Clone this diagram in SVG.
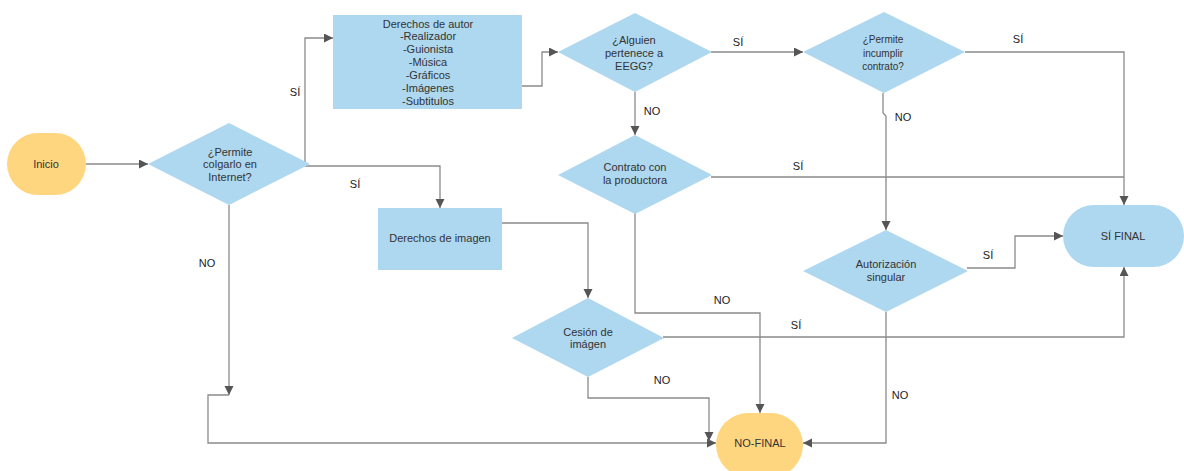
<svg xmlns="http://www.w3.org/2000/svg" width="1184" height="471" viewBox="0 0 1184 471">
<defs>
<style>
.blue{fill:#AED7F0;}
.yellow{fill:#FFD680;}
.t{font-family:"Liberation Sans",Arial,sans-serif;font-size:11px;fill:#333;text-anchor:middle;}
.s{font-size:10px;}
.lbl{font-family:"Liberation Sans",Arial,sans-serif;font-size:11px;fill:#222;text-anchor:middle;}
.c{fill:none;stroke:#8a8a8a;stroke-width:1.3;}
.a{marker-end:url(#arr);}
</style>
<marker id="arr" markerUnits="userSpaceOnUse" markerWidth="10" markerHeight="10" refX="9" refY="4.5" orient="auto">
<path d="M0,0 L9,4.5 L0,9 Z" fill="#555"/>
</marker>
</defs>
<rect width="1184" height="471" fill="#fff"/>

<g id="connectors">
<path class="c a" d="M86,164 H148"/>
<path class="c a" d="M305,166 V38 H333"/>
<path class="c a" d="M305,166 H440 V208"/>
<path class="c a" d="M229,205 V395"/>
<path class="c a" d="M229,395 H208 V443 H716"/>
<path class="c a" d="M522,86 H542 V52 H558"/>
<path class="c a" d="M711,52 H803"/>
<path class="c a" d="M965,52 H1124 V205"/>
<path class="c a" d="M883,93 V113 L886,116 V230"/>
<path class="c a" d="M635,92 V135"/>
<path class="c" d="M711,177 H1124"/>
<path class="c a" d="M635,213 V313 H760 V413"/>
<path class="c a" d="M502,223 H588 V298"/>
<path class="c a" d="M663,337 H1124 V267"/>
<path class="c a" d="M588,377 V398 H709 V441"/>
<path class="c a" d="M967,268 H1015 V236 H1063"/>
<path class="c a" d="M886,312 V443 H803"/>
<text class="lbl" x="295" y="96">SÍ</text>
<text class="lbl" x="355" y="188">SÍ</text>
<text class="lbl" x="207" y="267">NO</text>
<text class="lbl" x="652" y="115">NO</text>
<text class="lbl" x="738" y="46">SÍ</text>
<text class="lbl" x="1018" y="43">SÍ</text>
<text class="lbl" x="903" y="121">NO</text>
<text class="lbl" x="798" y="170">SÍ</text>
<text class="lbl" x="722" y="304">NO</text>
<text class="lbl" x="796" y="329">SÍ</text>
<text class="lbl" x="662" y="384">NO</text>
<text class="lbl" x="988" y="259">SÍ</text>
<text class="lbl" x="900" y="399">NO</text>
</g>

<g id="inicio">
<rect class="yellow" x="7" y="133" width="79" height="62" rx="31" ry="31"/>
<text class="t" x="46" y="168">Inicio</text>
</g>

<g id="permite-colgarlo">
<polygon class="blue" points="148,164 229,123 310,164 229,205"/>
<text class="t" x="230" y="156">¿Permite</text>
<text class="t" x="230" y="168">colgarlo en</text>
<text class="t" x="230" y="181">Internet?</text>
</g>

<g id="derechos-autor">
<rect class="blue" x="333" y="15" width="189" height="94"/>
<text class="t" x="428" y="28">Derechos de autor</text>
<text class="t" x="428" y="40">-Realizador</text>
<text class="t" x="428" y="53">-Guionista</text>
<text class="t" x="428" y="66">-Música</text>
<text class="t" x="428" y="79">-Gráficos</text>
<text class="t" x="428" y="92">-Imágenes</text>
<text class="t" x="428" y="105">-Subtitulos</text>
</g>

<g id="derechos-imagen">
<rect class="blue" x="378" y="208" width="124" height="62"/>
<text class="t" x="440" y="242">Derechos de imagen</text>
</g>

<g id="alguien-eegg">
<polygon class="blue" points="558,52 635,13 712,52 635,92"/>
<text class="t" x="634" y="44">¿Alguien</text>
<text class="t" x="634" y="57">pertenece a</text>
<text class="t" x="634" y="70">EEGG?</text>
</g>

<g id="permite-incumplir">
<polygon class="blue" points="803,52 884,12 965,52 884,93"/>
<text class="t s" x="883" y="43">¿Permite</text>
<text class="t s" x="883" y="57">incumplir</text>
<text class="t s" x="883" y="70">contrato?</text>
</g>

<g id="contrato-productora">
<polygon class="blue" points="558,175 635,135 712,175 635,214"/>
<text class="t" x="635" y="171">Contrato con</text>
<text class="t" x="635" y="184">la productora</text>
</g>

<g id="cesion-imagen">
<polygon class="blue" points="512,338 588,298 664,338 588,377"/>
<text class="t" x="588" y="336">Cesión de</text>
<text class="t" x="588" y="348">imágen</text>
</g>

<g id="autorizacion-singular">
<polygon class="blue" points="803,271 886,230 968,271 886,312"/>
<text class="t" x="886" y="268">Autorización</text>
<text class="t" x="886" y="281">singular</text>
</g>

<g id="si-final">
<rect class="blue" x="1063" y="205" width="121" height="62" rx="31" ry="31"/>
<text class="t" x="1123" y="240">SÍ FINAL</text>
</g>

<g id="no-final">
<rect class="yellow" x="716" y="413" width="87" height="64" rx="32" ry="32"/>
<text class="t" x="760" y="447">NO-FINAL</text>
</g>
</svg>
